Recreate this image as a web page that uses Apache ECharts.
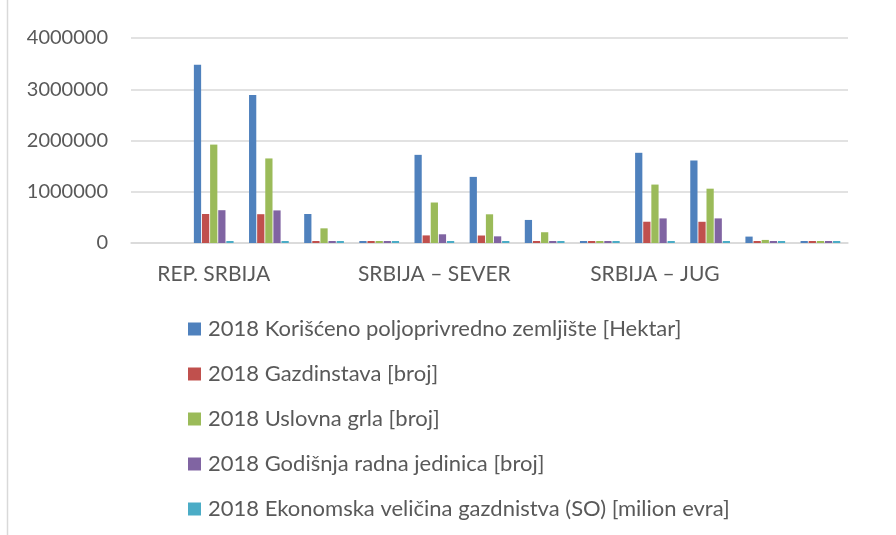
<!DOCTYPE html>
<html lang="sr">
<head>
    <meta charset="UTF-8">
    <title>Poljoprivreda 2018</title>
    <script src="https://cdn.jsdelivr.net/npm/echarts@6/dist/echarts.min.js"></script>
    <style>
        html, body { margin: 0; padding: 0; background: #fff; }
        #chart { width: 896px; height: 535px; }
    </style>
</head>
<body>
<div id="chart"></div>
<script>
    // 13 slots on the axis, only every 4th one carries a region label
    var categories = ['', 'REP. SRBIJA', '', '', '', 'SRBIJA – SEVER', '', '', '', 'SRBIJA – JUG', '', '', ''];
    var yTicks = [0, 1000000, 2000000, 3000000, 4000000];

    var seriesNames = [
        '2018 Korišćeno poljoprivredno zemljište [Hektar]',
        '2018 Gazdinstava [broj]',
        '2018 Uslovna grla [broj]',
        '2018 Godišnja radna jedinica [broj]',
        '2018 Ekonomska veličina gazdnistva (SO) [milion evra]'
    ];
    var zemljiste = [null, 3480000, 2890000, 566000, 18000, 1720000, 1290000, 450000, 9000, 1760000, 1610000, 125000, 9000];
    var gazdinstva = [null, 566000, 562000, 3000, 700, 148000, 146000, 1800, 300, 415000, 414000, 1200, 400];
    var grla = [null, 1920000, 1650000, 286000, 9000, 790000, 560000, 210000, 5000, 1140000, 1060000, 60000, 4000];
    var radnaJedinica = [null, 640000, 636000, 12000, 1500, 170000, 130000, 8000, 700, 480000, 480000, 4000, 800];
    var ekonomskaVelicina = [null, 3900, 3000, 800, 60, 2000, 1400, 550, 30, 1900, 1600, 250, 30];

    var seriesData = [zemljiste, gazdinstva, grla, radnaJedinica, ekonomskaVelicina];
    var colors = ['#4F81BD', '#C0504D', '#9BBB59', '#8064A2', '#4BACC6'];

    var myChart = echarts.init(document.getElementById('chart'));
    var font = 'Lato, "Open Sans", sans-serif';

    var series = seriesNames.map(function (name, i) {
        return {
            name: name,
            type: 'bar',
            data: seriesData[i],
            barGap: '12%',
            barCategoryGap: '28%',
            barMinHeight: 2,
            itemStyle: { color: colors[i] }
        };
    });

    var option = {
        animation: false,
        color: colors,
        textStyle: { fontFamily: font },
        grid: { left: 131, right: 48, top: 38, bottom: 292 },
        legend: {
            orient: 'vertical',
            left: 188,
            top: 317,
            padding: 0,
            itemWidth: 13,
            itemHeight: 13,
            itemGap: 21,
            icon: 'rect',
            data: seriesNames,
            textStyle: { fontFamily: font, fontSize: 22, color: '#595959', lineHeight: 24, padding: [0, 0, 0, 2] }
        },
        xAxis: {
            type: 'category',
            data: categories,
            axisLine: { lineStyle: { color: '#d9d9d9', width: 1.5 } },
            axisTick: { show: false },
            axisLabel: { interval: 0, color: '#595959', fontSize: 21, fontFamily: font, margin: 21 }
        },
        yAxis: {
            type: 'value',
            min: yTicks[0],
            max: yTicks[yTicks.length - 1],
            interval: yTicks[1] - yTicks[0],
            axisLine: { show: false },
            axisTick: { show: false },
            axisLabel: {
                color: '#595959', fontSize: 20, fontFamily: font, margin: 23,
                formatter: function (v) { return String(v); }
            },
            splitLine: { lineStyle: { color: '#d9d9d9', width: 1.5 } }
        },
        graphic: [{
            type: 'line',
            shape: { x1: 7.5, y1: 0, x2: 7.5, y2: 535 },
            style: { stroke: '#d9d9d9', lineWidth: 1.5 }
        }],
        series: series
    };
    myChart.setOption(option);
</script>
</body>
</html>
